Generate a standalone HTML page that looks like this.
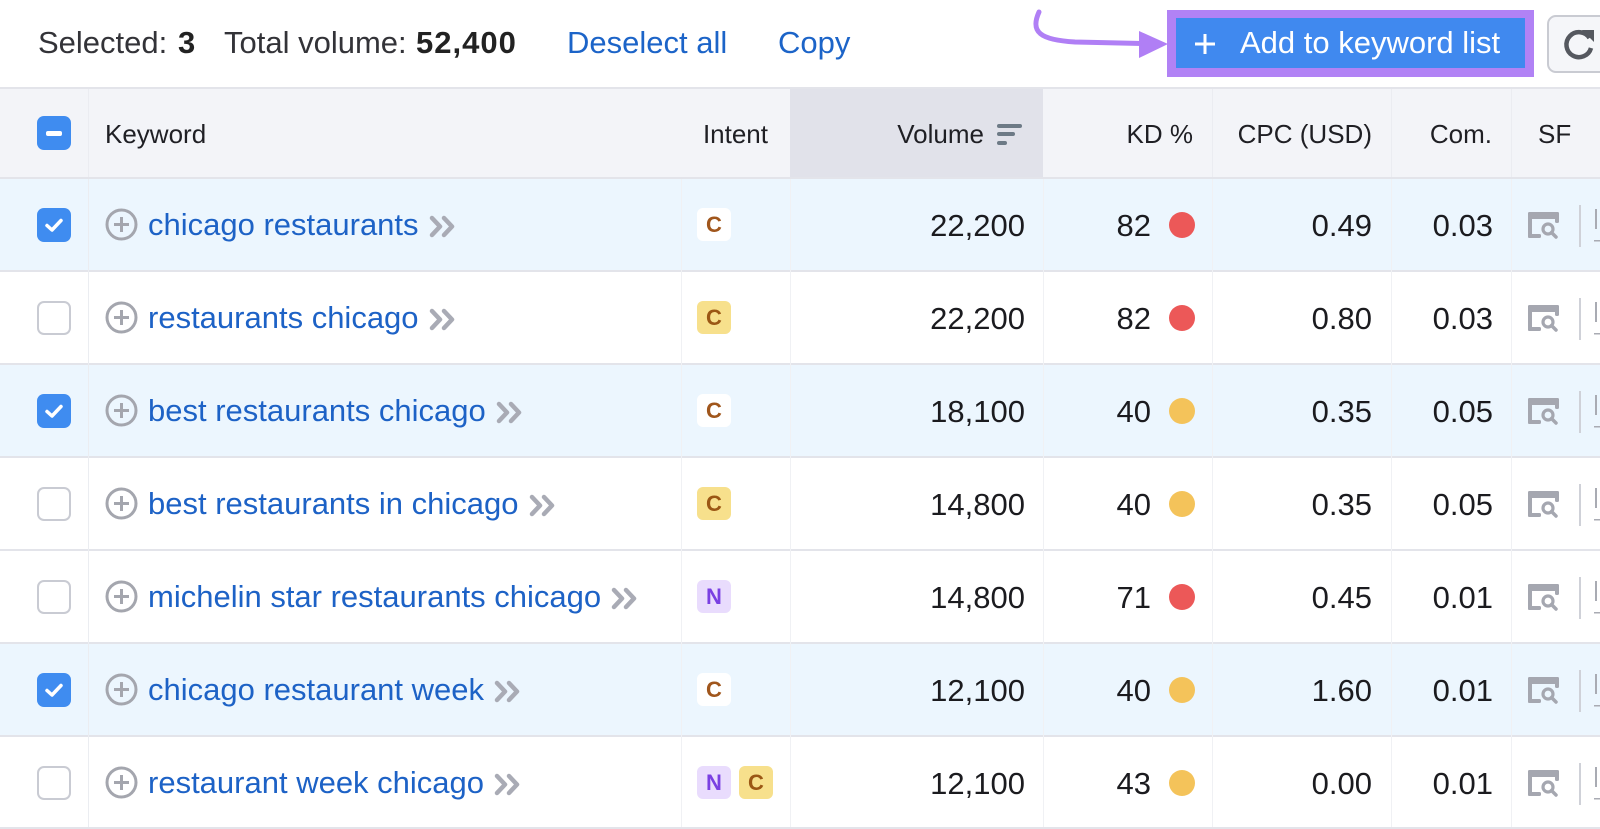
<!DOCTYPE html>
<html>
<head>
<meta charset="utf-8">
<style>
  html,body{margin:0;padding:0;background:#fff;}
  #root{position:relative;width:1600px;height:829px;overflow:hidden;background:#fff;font-family:"Liberation Sans",Arial,sans-serif;}
  .abs{position:absolute;white-space:nowrap;}
  .top{font-size:31px;line-height:40px;top:23px;color:#333338;}
  .link{color:#1c64c8;}
  .hdrtxt{font-size:26px;color:#1f1f24;line-height:34px;top:117px;}
  .row{position:absolute;left:0;width:1600px;height:91px;}
  .sel{background:#ecf6fe;}
  .hline{position:absolute;left:0;width:1600px;height:2px;background:#e3e4ea;}
  .vline{position:absolute;width:1px;background:#f0f1f4;}
  .cell{position:absolute;height:91px;display:flex;align-items:center;font-size:31px;color:#1b1b1f;white-space:nowrap;}
  .r{justify-content:flex-end;}
  .kw{color:#1d62c6;}
  .cb{width:34px;height:34px;border-radius:7px;box-sizing:border-box;}
  .cbon{background:#3f8cf0;}
  .cboff{background:#fff;border:2px solid #c9cbd3;}
  .badge{width:34px;height:33px;border-radius:6px;display:flex;align-items:center;justify-content:center;font-weight:bold;font-size:22px;}
  .bc{background:#f7e08c;color:#9b5714;}
  .bcw{background:#fff;color:#a0561c;}
  .bn{background:#e9dcfd;color:#7a40e2;}
  .dot{width:26px;height:26px;border-radius:50%;}
  .red{background:#ec5858;}
  .yel{background:#f4c35a;}
</style>
</head>
<body>
<div id="root">

  <!-- top bar -->
  <div class="abs top" style="left:38px;">Selected:</div>
  <div class="abs top" style="left:178px;font-weight:bold;color:#222;">3</div>
  <div class="abs top" style="left:224px;">Total volume:</div>
  <div class="abs top" style="left:416px;font-weight:bold;color:#222;letter-spacing:1px;">52,400</div>
  <div class="abs top link" style="left:567px;">Deselect all</div>
  <div class="abs top link" style="left:778px;">Copy</div>

  <!-- arrow -->
  <svg class="abs" style="left:0;top:0;" width="1600" height="90">
    <path d="M1039,12 C1030,32 1040,40 1075,42 L1142,43.5" fill="none" stroke="#b07ff5" stroke-width="5" stroke-linecap="round"/>
    <polygon points="1139,31 1168,44 1139,58" fill="#b07ff5"/>
  </svg>

  <!-- add to keyword list button -->
  <div class="abs" style="left:1167px;top:10px;width:367px;height:67px;background:#b182f5;"></div>
  <div class="abs" style="left:1176px;top:18px;width:349px;height:50px;background:#4089ef;"></div>
  <svg class="abs" style="left:1194px;top:33px;" width="22" height="22">
    <path d="M11,1 V21 M1,11 H21" stroke="#fff" stroke-width="3"/>
  </svg>
  <div class="abs" style="left:1240px;top:23px;font-size:31px;line-height:40px;color:#fff;">Add to keyword list</div>

  <!-- refresh button -->
  <div class="abs" style="left:1547px;top:15px;width:80px;height:58px;box-sizing:border-box;border:2px solid #c9cbd2;border-radius:9px;background:#f5f6f9;"></div>
  <svg class="abs" style="left:1562px;top:27px;" width="36" height="36">
    <path d="M27.5,11 A12.5,12.5 0 1 0 29,21" fill="none" stroke="#55585f" stroke-width="4.5"/>
    <polygon points="20,3 32,3 32,15" fill="#55585f"/>
  </svg>

  <!-- header -->
  <div class="abs" style="left:0;top:88px;width:1600px;height:89px;background:#f3f4f8;"></div>
  <div class="abs" style="left:0;top:87px;width:1600px;height:2px;background:#e3e4ea;"></div>
  <div class="abs" style="left:790px;top:89px;width:253px;height:88px;background:#e1e2ea;"></div>
  <div class="vline" style="left:88px;top:89px;height:88px;background:#ebecf1;"></div>
  <div class="vline" style="left:1212px;top:89px;height:88px;background:#ebecf1;"></div>
  <div class="vline" style="left:1391px;top:89px;height:88px;background:#ebecf1;"></div>
  <div class="vline" style="left:1511px;top:89px;height:88px;background:#ebecf1;"></div>

  <div class="abs cb cbon" style="left:37px;top:116px;"></div>
  <div class="abs" style="left:46px;top:131px;width:16px;height:5px;border-radius:2px;background:#fff;"></div>

  <div class="abs hdrtxt" style="left:105px;">Keyword</div>
  <div class="abs hdrtxt" style="left:668px;width:100px;text-align:right;">Intent</div>
  <div class="abs hdrtxt" style="left:860px;width:124px;text-align:right;">Volume</div>
  <div class="abs" style="left:997px;top:124px;width:25px;height:4px;border-radius:2px;background:#6d7a86;"></div>
  <div class="abs" style="left:997px;top:132px;width:18px;height:4px;border-radius:2px;background:#6d7a86;"></div>
  <div class="abs" style="left:997px;top:141px;width:10px;height:4px;border-radius:2px;background:#6d7a86;"></div>
  <div class="abs hdrtxt" style="left:1093px;width:100px;text-align:right;">KD %</div>
  <div class="abs hdrtxt" style="left:1212px;width:160px;text-align:right;">CPC (USD)</div>
  <div class="abs hdrtxt" style="left:1392px;width:100px;text-align:right;">Com.</div>
  <div class="abs hdrtxt" style="left:1538px;">SF</div>

  <!-- rows backgrounds -->
  <div class="row sel" style="top:179px;"></div>
  <div class="row" style="top:272px;"></div>
  <div class="row sel" style="top:365px;"></div>
  <div class="row" style="top:458px;"></div>
  <div class="row" style="top:551px;"></div>
  <div class="row sel" style="top:644px;"></div>
  <div class="row" style="top:737px;"></div>

  <!-- horizontal lines -->
  <div class="hline" style="top:177px;"></div>
  <div class="hline" style="top:270px;"></div>
  <div class="hline" style="top:363px;"></div>
  <div class="hline" style="top:456px;"></div>
  <div class="hline" style="top:549px;"></div>
  <div class="hline" style="top:642px;"></div>
  <div class="hline" style="top:735px;"></div>
  <div class="hline" style="top:827px;"></div>

  <!-- vertical faint lines in body -->
  <div class="vline" style="left:88px;top:179px;height:648px;background:#ebedf1;"></div>
  <div class="vline" style="left:681px;top:179px;height:648px;"></div>
  <div class="vline" style="left:790px;top:179px;height:648px;"></div>
  <div class="vline" style="left:1043px;top:179px;height:648px;"></div>
  <div class="vline" style="left:1212px;top:179px;height:648px;"></div>
  <div class="vline" style="left:1391px;top:179px;height:648px;"></div>
  <div class="vline" style="left:1511px;top:179px;height:648px;"></div>

  <!-- Row 1 -->
  <div class="cell" style="left:37px;top:179px;"><div class="cb cbon"><svg width="34" height="34"><polyline points="10,17.5 15,22 24,12.5" fill="none" stroke="#fff" stroke-width="3.5" stroke-linecap="round" stroke-linejoin="round"/></svg></div></div>
  <div class="cell kw" style="left:105px;top:179px;"><svg width="33" height="33" style="margin-right:10px"><circle cx="16.5" cy="16.5" r="14.5" fill="none" stroke="#a4a6ae" stroke-width="3"/><path d="M16.5,9 V24 M9,16.5 H24" stroke="#a4a6ae" stroke-width="3"/></svg>chicago restaurants<svg width="27" height="23" style="margin-left:10px;margin-top:4px"><polyline points="3,3 11,11.5 3,20" fill="none" stroke="#a9abb5" stroke-width="4.5" stroke-linejoin="round" stroke-linecap="round"/><polyline points="15,3 23,11.5 15,20" fill="none" stroke="#a9abb5" stroke-width="4.5" stroke-linejoin="round" stroke-linecap="round"/></svg></div>
  <div class="cell" style="left:697px;top:179px;"><div class="badge bcw">C</div></div>
  <div class="cell r" style="left:900px;width:125px;top:180px;">22,200</div>
  <div class="cell r" style="left:1050px;width:101px;top:180px;">82</div>
  <div class="cell" style="left:1169px;top:179px;"><div class="dot red"></div></div>
  <div class="cell r" style="left:1250px;width:122px;top:180px;">0.49</div>
  <div class="cell r" style="left:1400px;width:93px;top:180px;">0.03</div>

  <!-- Row 2 -->
  <div class="cell" style="left:37px;top:272px;"><div class="cb cboff"></div></div>
  <div class="cell kw" style="left:105px;top:272px;"><svg width="33" height="33" style="margin-right:10px"><circle cx="16.5" cy="16.5" r="14.5" fill="none" stroke="#a4a6ae" stroke-width="3"/><path d="M16.5,9 V24 M9,16.5 H24" stroke="#a4a6ae" stroke-width="3"/></svg>restaurants chicago<svg width="27" height="23" style="margin-left:10px;margin-top:4px"><polyline points="3,3 11,11.5 3,20" fill="none" stroke="#a9abb5" stroke-width="4.5" stroke-linejoin="round" stroke-linecap="round"/><polyline points="15,3 23,11.5 15,20" fill="none" stroke="#a9abb5" stroke-width="4.5" stroke-linejoin="round" stroke-linecap="round"/></svg></div>
  <div class="cell" style="left:697px;top:272px;"><div class="badge bc">C</div></div>
  <div class="cell r" style="left:900px;width:125px;top:273px;">22,200</div>
  <div class="cell r" style="left:1050px;width:101px;top:273px;">82</div>
  <div class="cell" style="left:1169px;top:272px;"><div class="dot red"></div></div>
  <div class="cell r" style="left:1250px;width:122px;top:273px;">0.80</div>
  <div class="cell r" style="left:1400px;width:93px;top:273px;">0.03</div>

  <!-- Row 3 -->
  <div class="cell" style="left:37px;top:365px;"><div class="cb cbon"><svg width="34" height="34"><polyline points="10,17.5 15,22 24,12.5" fill="none" stroke="#fff" stroke-width="3.5" stroke-linecap="round" stroke-linejoin="round"/></svg></div></div>
  <div class="cell kw" style="left:105px;top:365px;"><svg width="33" height="33" style="margin-right:10px"><circle cx="16.5" cy="16.5" r="14.5" fill="none" stroke="#a4a6ae" stroke-width="3"/><path d="M16.5,9 V24 M9,16.5 H24" stroke="#a4a6ae" stroke-width="3"/></svg>best restaurants chicago<svg width="27" height="23" style="margin-left:10px;margin-top:4px"><polyline points="3,3 11,11.5 3,20" fill="none" stroke="#a9abb5" stroke-width="4.5" stroke-linejoin="round" stroke-linecap="round"/><polyline points="15,3 23,11.5 15,20" fill="none" stroke="#a9abb5" stroke-width="4.5" stroke-linejoin="round" stroke-linecap="round"/></svg></div>
  <div class="cell" style="left:697px;top:365px;"><div class="badge bcw">C</div></div>
  <div class="cell r" style="left:900px;width:125px;top:366px;">18,100</div>
  <div class="cell r" style="left:1050px;width:101px;top:366px;">40</div>
  <div class="cell" style="left:1169px;top:365px;"><div class="dot yel"></div></div>
  <div class="cell r" style="left:1250px;width:122px;top:366px;">0.35</div>
  <div class="cell r" style="left:1400px;width:93px;top:366px;">0.05</div>

  <!-- Row 4 -->
  <div class="cell" style="left:37px;top:458px;"><div class="cb cboff"></div></div>
  <div class="cell kw" style="left:105px;top:458px;"><svg width="33" height="33" style="margin-right:10px"><circle cx="16.5" cy="16.5" r="14.5" fill="none" stroke="#a4a6ae" stroke-width="3"/><path d="M16.5,9 V24 M9,16.5 H24" stroke="#a4a6ae" stroke-width="3"/></svg>best restaurants in chicago<svg width="27" height="23" style="margin-left:10px;margin-top:4px"><polyline points="3,3 11,11.5 3,20" fill="none" stroke="#a9abb5" stroke-width="4.5" stroke-linejoin="round" stroke-linecap="round"/><polyline points="15,3 23,11.5 15,20" fill="none" stroke="#a9abb5" stroke-width="4.5" stroke-linejoin="round" stroke-linecap="round"/></svg></div>
  <div class="cell" style="left:697px;top:458px;"><div class="badge bc">C</div></div>
  <div class="cell r" style="left:900px;width:125px;top:459px;">14,800</div>
  <div class="cell r" style="left:1050px;width:101px;top:459px;">40</div>
  <div class="cell" style="left:1169px;top:458px;"><div class="dot yel"></div></div>
  <div class="cell r" style="left:1250px;width:122px;top:459px;">0.35</div>
  <div class="cell r" style="left:1400px;width:93px;top:459px;">0.05</div>

  <!-- Row 5 -->
  <div class="cell" style="left:37px;top:551px;"><div class="cb cboff"></div></div>
  <div class="cell kw" style="left:105px;top:551px;"><svg width="33" height="33" style="margin-right:10px"><circle cx="16.5" cy="16.5" r="14.5" fill="none" stroke="#a4a6ae" stroke-width="3"/><path d="M16.5,9 V24 M9,16.5 H24" stroke="#a4a6ae" stroke-width="3"/></svg>michelin star restaurants chicago<svg width="27" height="23" style="margin-left:10px;margin-top:4px"><polyline points="3,3 11,11.5 3,20" fill="none" stroke="#a9abb5" stroke-width="4.5" stroke-linejoin="round" stroke-linecap="round"/><polyline points="15,3 23,11.5 15,20" fill="none" stroke="#a9abb5" stroke-width="4.5" stroke-linejoin="round" stroke-linecap="round"/></svg></div>
  <div class="cell" style="left:697px;top:551px;"><div class="badge bn">N</div></div>
  <div class="cell r" style="left:900px;width:125px;top:552px;">14,800</div>
  <div class="cell r" style="left:1050px;width:101px;top:552px;">71</div>
  <div class="cell" style="left:1169px;top:551px;"><div class="dot red"></div></div>
  <div class="cell r" style="left:1250px;width:122px;top:552px;">0.45</div>
  <div class="cell r" style="left:1400px;width:93px;top:552px;">0.01</div>

  <!-- Row 6 -->
  <div class="cell" style="left:37px;top:644px;"><div class="cb cbon"><svg width="34" height="34"><polyline points="10,17.5 15,22 24,12.5" fill="none" stroke="#fff" stroke-width="3.5" stroke-linecap="round" stroke-linejoin="round"/></svg></div></div>
  <div class="cell kw" style="left:105px;top:644px;"><svg width="33" height="33" style="margin-right:10px"><circle cx="16.5" cy="16.5" r="14.5" fill="none" stroke="#a4a6ae" stroke-width="3"/><path d="M16.5,9 V24 M9,16.5 H24" stroke="#a4a6ae" stroke-width="3"/></svg>chicago restaurant week<svg width="27" height="23" style="margin-left:10px;margin-top:4px"><polyline points="3,3 11,11.5 3,20" fill="none" stroke="#a9abb5" stroke-width="4.5" stroke-linejoin="round" stroke-linecap="round"/><polyline points="15,3 23,11.5 15,20" fill="none" stroke="#a9abb5" stroke-width="4.5" stroke-linejoin="round" stroke-linecap="round"/></svg></div>
  <div class="cell" style="left:697px;top:644px;"><div class="badge bcw">C</div></div>
  <div class="cell r" style="left:900px;width:125px;top:645px;">12,100</div>
  <div class="cell r" style="left:1050px;width:101px;top:645px;">40</div>
  <div class="cell" style="left:1169px;top:644px;"><div class="dot yel"></div></div>
  <div class="cell r" style="left:1250px;width:122px;top:645px;">1.60</div>
  <div class="cell r" style="left:1400px;width:93px;top:645px;">0.01</div>

  <!-- Row 7 -->
  <div class="cell" style="left:37px;top:737px;"><div class="cb cboff"></div></div>
  <div class="cell kw" style="left:105px;top:737px;"><svg width="33" height="33" style="margin-right:10px"><circle cx="16.5" cy="16.5" r="14.5" fill="none" stroke="#a4a6ae" stroke-width="3"/><path d="M16.5,9 V24 M9,16.5 H24" stroke="#a4a6ae" stroke-width="3"/></svg>restaurant week chicago<svg width="27" height="23" style="margin-left:10px;margin-top:4px"><polyline points="3,3 11,11.5 3,20" fill="none" stroke="#a9abb5" stroke-width="4.5" stroke-linejoin="round" stroke-linecap="round"/><polyline points="15,3 23,11.5 15,20" fill="none" stroke="#a9abb5" stroke-width="4.5" stroke-linejoin="round" stroke-linecap="round"/></svg></div>
  <div class="cell" style="left:697px;top:737px;"><div class="badge bn">N</div><div class="badge bc" style="margin-left:8px;">C</div></div>
  <div class="cell r" style="left:900px;width:125px;top:738px;">12,100</div>
  <div class="cell r" style="left:1050px;width:101px;top:738px;">43</div>
  <div class="cell" style="left:1169px;top:737px;"><div class="dot yel"></div></div>
  <div class="cell r" style="left:1250px;width:122px;top:738px;">0.00</div>
  <div class="cell r" style="left:1400px;width:93px;top:738px;">0.01</div>

  <!-- SF icons + dividers -->
  <svg class="abs" style="left:1520px;top:179px;" width="80" height="650">
    <defs>
      <g id="sf">
        <rect x="8" y="0" width="31" height="7" rx="2" fill="#a5a7b0"/>
        <rect x="8" y="0" width="4" height="26" rx="1.5" fill="#a5a7b0"/>
        <rect x="8" y="22" width="13" height="4" rx="1.5" fill="#a5a7b0"/>
        <rect x="35" y="0" width="4" height="11" rx="1.5" fill="#a5a7b0"/>
        <circle cx="28" cy="17" r="5" fill="none" stroke="#a5a7b0" stroke-width="3.2"/>
        <line x1="31.5" y1="20.5" x2="36" y2="25" stroke="#a5a7b0" stroke-width="3.5" stroke-linecap="round"/>
        <rect x="59" y="-7" width="2" height="42" fill="#cfd1d8"/>
        <rect x="75" y="-3" width="2" height="20" fill="#a9abb3"/>
        <rect x="74" y="28" width="6" height="1.5" fill="#a9abb3"/>
      </g>
    </defs>
    <use href="#sf" x="0" y="33"/>
    <use href="#sf" x="0" y="126"/>
    <use href="#sf" x="0" y="219"/>
    <use href="#sf" x="0" y="312"/>
    <use href="#sf" x="0" y="405"/>
    <use href="#sf" x="0" y="498"/>
    <use href="#sf" x="0" y="591"/>
  </svg>

</div>
</body>
</html>
